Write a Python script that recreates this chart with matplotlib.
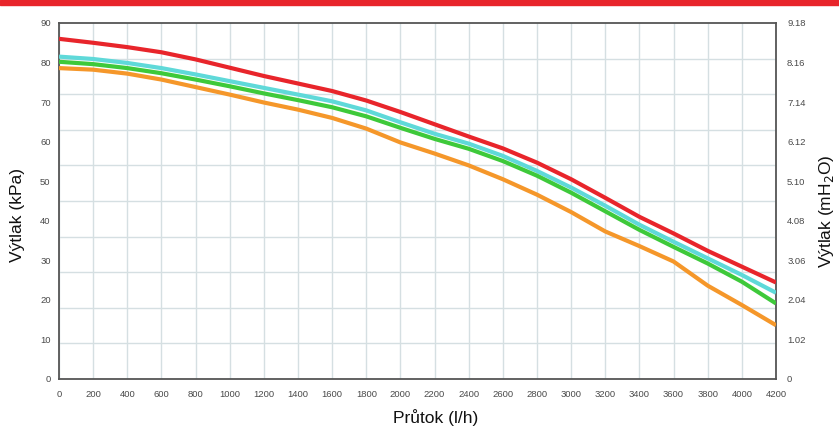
import numpy as np
import matplotlib
matplotlib.use("Agg")
import matplotlib.pyplot as plt
from matplotlib.patches import Rectangle

plt.rcParams['font.family'] = ['Liberation Sans', 'DejaVu Sans']

flow = [0, 200, 400, 600, 800, 1000, 1200, 1400, 1600, 1800, 2000,
        2200, 2400, 2600, 2800, 3000, 3200, 3400, 3600, 3800, 4000, 4200]
red = [86.0, 85.0, 83.9, 82.6, 80.8, 78.7, 76.6, 74.7, 72.8, 70.4, 67.5,
       64.4, 61.3, 58.3, 54.7, 50.5, 45.8, 41.0, 36.8, 32.4, 28.4, 24.4]
cyan = [81.5, 80.9, 79.9, 78.6, 77.0, 75.3, 73.6, 71.9, 70.2, 67.9, 64.9,
        62.0, 59.5, 56.4, 52.6, 48.4, 43.8, 39.0, 34.7, 30.5, 26.3, 21.8]
green = [80.2, 79.6, 78.6, 77.3, 75.7, 74.0, 72.2, 70.5, 68.7, 66.4, 63.5,
         60.7, 58.2, 55.1, 51.4, 47.1, 42.4, 37.7, 33.4, 29.2, 24.6, 19.1]
orange = [78.6, 78.2, 77.2, 75.7, 73.8, 71.9, 69.9, 68.1, 66.0, 63.3, 59.8,
          57.0, 54.0, 50.5, 46.6, 42.2, 37.3, 33.6, 29.7, 23.6, 18.7, 13.6]

kpa_ticks = [0, 10, 20, 30, 40, 50, 60, 70, 80, 90]
mh2o_ticks = [0, 1.02, 2.04, 3.06, 4.08, 5.10, 6.12, 7.14, 8.16, 9.18]
mh2o_labels = ['0', '1.02', '2.04', '3.06', '4.08', '5.10', '6.12', '7.14', '8.16', '9.18']
x_ticks = flow
x_labels = [str(v) for v in flow]

W, H = 839, 430
fig = plt.figure(figsize=(W / 100, H / 100), dpi=100)
fig.patches.append(Rectangle((0, 1 - 5 / H), 1, 5 / H, transform=fig.transFigure,
                             color='#e8252b', zorder=0))

ax = fig.add_axes([59 / W, 51 / H, 717 / W, 356 / H])
ax.set_xlim(0, 4200)
ax.set_ylim(0, 90)

grid_c = '#d5dfe2'
ax.set_xticks(x_ticks)
ax.set_xticklabels(x_labels)
ax.set_yticks(kpa_ticks)
ax.set_yticks(np.linspace(0, 90, 11), minor=True)
ax.grid(False)
ax.grid(True, which='minor', axis='y', color=grid_c, lw=1.0)
ax.grid(True, which='major', axis='x', color=grid_c, lw=1.0)
ax.tick_params(axis='both', which='both', length=0, labelsize=6.8, labelcolor='#4a4a4a')
ax.tick_params(axis='x', pad=8)
ax.tick_params(axis='y', pad=6)
for s in ax.spines.values():
    s.set_color('#555555')
    s.set_linewidth(1.3)

lw = 3.0
kw = dict(lw=lw, solid_capstyle='butt', solid_joinstyle='round')
ax.plot(flow, orange, color='#f5972a', zorder=3, **kw)
ax.plot(flow, cyan, color='#5fd9d9', zorder=3.5, **kw)
ax.plot(flow, green, color='#3ec93a', zorder=4, **kw)
ax.plot(flow, red, color='#e8252b', zorder=5, **kw)

ax2 = ax.twinx()
ax2.set_ylim(0, 9.18)
ax2.set_yticks(mh2o_ticks)
ax2.set_yticklabels(mh2o_labels)
ax2.tick_params(axis='y', length=0, labelsize=6.8, labelcolor='#4a4a4a', pad=8)
for s in ax2.spines.values():
    s.set_visible(False)

fig.text(18 / W, 1 - 215 / H, 'Výtlak (kPa)', rotation=90, ha='center', va='center',
         fontsize=12.5, color='#111111')
fig.text(826 / W, 1 - 211 / H, 'Výtlak (mH$_2$O)', rotation=90, ha='center', va='center',
         fontsize=12.5, color='#111111')
fig.text(436 / W, 1 - 418 / H, 'Průtok (l/h)', ha='center', va='center',
         fontsize=12.5, color='#111111')

fig.savefig('out.png', dpi=100)
